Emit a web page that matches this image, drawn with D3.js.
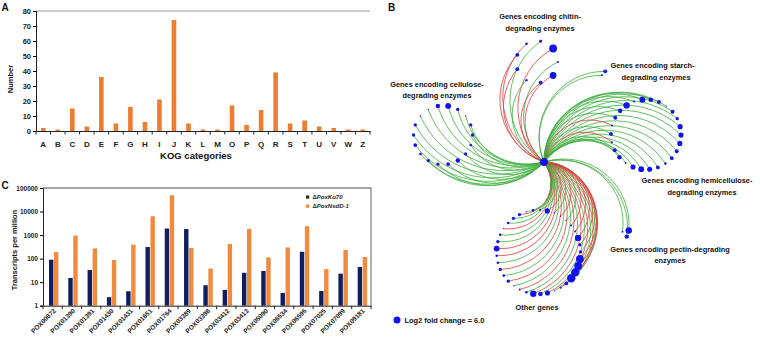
<!DOCTYPE html>
<html>
<head>
<meta charset="utf-8">
<script src="https://cdn.jsdelivr.net/npm/d3@7"></script>
<style>
  body { margin: 0; background: #fff; }
  text { font-family: Arial, "Liberation Sans", sans-serif; }
</style>
</head>
<body>
<div id="fig"></div>
<script>
// ---- panel A data ----
var kogCats = ['A','B','C','D','E','F','G','H','I','J','K','L','M','O','P','Q','R','S','T','U','V','W','Z'];
var kogCounts = [2,1,15,3,36,5,16,6,21,74,5,1,1,17,4,14,39,5,7,3,2,1,1];
var kogTicks = [0,10,20,30,40,50,60,70,80];

// ---- panel C data ----
var poxGenes = ['POX00872','POX01390','POX01391','POX01430','POX01431','POX01651','POX01764','POX03389',
  'POX03398','POX03412','POX03413','POX05090','POX06534','POX06595','POX07025','POX07099','POX09181'];
var tpmKu70 = [90,15,33,2.3,4.1,310,1900,1800,7.4,4.7,25,30,3.5,196,4.2,23,44];
var tpmNsdD = [190,950,270,87,390,6300,49000,285,38,420,1830,112,300,2400,36,234,117];
var tpmTicks = [1,10,100,1000,10000,100000];
var seriesNames = ['PoxKu70','PoxNsdD-1'];

// ---- panel B data (log2 fold change per gene, sign gives edge colour) ----
var fcChitin = [-6.7,1.7,-5.8,-3.3,2,-3.3,-3.3,-2.2,2.5];
var fcStarch = [3.3,1.7];
var fcCellulose = [3.8,5,2.8,1.2,2.8,2.8,2.2,2.8,3.8,3.2,2.8,2.8,2.2,3.2,2.8,2.8,1.2,1.2];
var fcHemi = [5,3.9,3.3,1.1,3.3,2.8,4.4,4.4,4.4,3.3,3.3,2.2,3.3,4.4,5,4.4,1.7,3.9,3.3,-1.7,3.3,-1.7,3.3,3.9,5.5,1.7];
var fcPectin = [5.5,3.8,1.7];
var fcOther = [-4.4,1.1,-1.1,1.1,-1.7,-1.7,-5.5,-2.8,2.8,-6.7,-6.7,-7.2,-7.2,3.3,-1.7,1.1,-4.4,3.9,-5.5,2.2,
  -1.7,1.1,-2.8,2.2,-2.8,2.2,-2.2,-5,2.8,2.2,-1.1,2.2,2.8,-2.8,1.1,2.2,1.7];
var legendFc = 6.0;

var svg = d3.select('#fig').append('svg')
    .attr('width', 760)
    .attr('height', 339)
    .style('background', '#fff');

var orange = '#ED7D31';
var navy = '#0E1E5E';

function panelLetter(t, x, y){
    svg.append('text').attr('x', x).attr('y', y).text(t)
        .style('font-size', '10px').style('font-weight', 'bold').style('fill', '#111');
}

//---------------- A: KOG bar chart ----------------
function drawKog(){
    var left = 36, right = 370, top = 11, bottom = 131;
    var x = d3.scaleBand().domain(kogCats).range([left, right]);
    var y = d3.scaleLinear().domain([0, 80]).range([bottom, top]);
    var g = svg.append('g');

    // top frame line
    g.append('line').attr('x1', left).attr('x2', right).attr('y1', top).attr('y2', top)
        .style('stroke', '#999').style('stroke-width', 1);

    g.selectAll('rect').data(kogCounts).enter().append('rect')
        .attr('x', function(d, i){ return x(kogCats[i]) + x.bandwidth() / 2 - 2.3; })
        .attr('y', function(d){ return y(d); })
        .attr('width', 4.6)
        .attr('height', function(d){ return bottom - y(d); })
        .attr('fill', orange);

    var gy = g.append('g').attr('transform', 'translate(' + left + ',0)')
        .call(d3.axisLeft(y).tickValues(kogTicks).tickSize(3).tickPadding(2));
    gy.selectAll('text').style('font-size', '7.5px').style('font-weight', 'bold').style('fill', '#222');

    var gx = g.append('g').attr('transform', 'translate(0,' + bottom + ')')
        .call(d3.axisBottom(x).tickSize(0).tickPadding(10));
    gx.selectAll('text').style('font-size', '8px').style('font-weight', 'bold').style('fill', '#222');
    // ticks between the categories
    gx.selectAll('.sep').data(kogCats.concat(['end'])).enter().append('line')
        .attr('class', 'sep')
        .attr('x1', function(d, i){ return left + i * x.step(); })
        .attr('x2', function(d, i){ return left + i * x.step(); })
        .attr('y1', 0).attr('y2', 3.5)
        .style('stroke', '#222');
    svg.selectAll('.domain').style('stroke', '#222');

    svg.append('text').attr('x', 196).attr('y', 158.5).attr('text-anchor', 'middle')
        .text('KOG categories').style('font-size', '9.5px').style('font-weight', 'bold').style('fill', '#111');
    svg.append('text').attr('transform', 'translate(12.5,79) rotate(-90)').attr('text-anchor', 'middle')
        .text('Number').style('font-size', '7.5px').style('font-weight', 'bold').style('fill', '#111');
}

//---------------- C: transcripts per million ----------------
function drawTpm(){
    var left = 43, right = 371, top = 188, bottom = 305.7;
    var x = d3.scaleBand().domain(poxGenes).range([left, right]);
    var y = d3.scaleLog().domain([1, 100000]).range([bottom, top]);
    var g = svg.append('g');

    g.append('path').attr('d', 'M' + left + ',' + top + 'H' + right + 'V' + bottom)
        .style('fill', 'none').style('stroke', '#888').style('stroke-width', 1.3);

    var series = [tpmKu70, tpmNsdD];
    var cols = [navy, '#F08A3E'];
    series.forEach(function(vals, s){
        g.append('g').selectAll('rect').data(vals).enter().append('rect')
            .attr('x', function(d, i){ return x(poxGenes[i]) + 6 + s * 5; })
            .attr('y', function(d){ return y(d); })
            .attr('width', 4.4)
            .attr('height', function(d){ return bottom - y(d); })
            .attr('fill', cols[s]);
    });

    var gy = g.append('g').attr('transform', 'translate(' + left + ',0)')
        .call(d3.axisLeft(y).tickValues(tpmTicks).tickFormat(d3.format('d')).tickSize(3).tickPadding(2));
    gy.selectAll('text').style('font-size', '6.5px').style('font-weight', 'bold').style('fill', '#222');

    var gx = g.append('g').attr('transform', 'translate(0,' + bottom + ')')
        .call(d3.axisBottom(x).tickSize(0).tickFormat(''));
    gx.selectAll('.sep').data(poxGenes.concat(['end'])).enter().append('line')
        .attr('class', 'sep')
        .attr('x1', function(d, i){ return left + i * x.step(); })
        .attr('x2', function(d, i){ return left + i * x.step(); })
        .attr('y1', 0).attr('y2', 3.5)
        .style('stroke', '#222');
    g.append('g').selectAll('text').data(poxGenes).enter().append('text')
        .attr('transform', function(d){
            return 'translate(' + (x(d) + x.bandwidth() / 2 + 2) + ',' + (bottom + 4) + ') rotate(-45)';
        })
        .attr('text-anchor', 'end')
        .attr('dy', '0.35em')
        .text(function(d){ return d; })
        .style('font-size', '6.5px').style('font-weight', 'bold').style('fill', '#222');
    svg.selectAll('.domain').style('stroke', '#222');

    svg.append('text').attr('transform', 'translate(17,250) rotate(-90)').attr('text-anchor', 'middle')
        .text('Transcripts per million').style('font-size', '7.5px').style('font-weight', 'bold').style('fill', '#111');

    // legend
    var lg = svg.append('g').attr('transform', 'translate(306,197)');
    seriesNames.forEach(function(name, s){
        lg.append('rect').attr('x', 0).attr('y', s * 9 - 1.5).attr('width', 3.2).attr('height', 3.2)
            .attr('fill', s === 0 ? '#1E2A22' : '#F08A3E');
        var t = lg.append('text').attr('x', 6.5).attr('y', s * 9 + 2)
            .style('font-size', '6px').style('font-weight', 'bold').style('fill', '#222');
        t.append('tspan').text('\u0394');
        t.append('tspan').style('font-style', 'italic').text(name);
    });
}

//---------------- B: gene network ----------------
function drawNetwork(){
    var hub = {x: 544, y: 162};
    // ring layout of each gene group
    var groups = [
        {fc: fcCellulose, cx: 443, cy: 135, r: 29.5, start: -100, bend: 0.7,
         label: ['Genes encoding cellulose-', 'degrading enzymes'], lx: [437, 437], ly: [86.5, 97.5]},
        {fc: fcChitin, cx: 537, cy: 62, r: 21, start: -40, bend: 0.6,
         label: ['Genes encoding chitin-', 'degrading enzymes'], lx: [540, 540], ly: [19, 30.5]},
        {fc: fcStarch, cx: 603.6, cy: 73.3, r: 2.6, start: -50, bend: 0.6,
         label: ['Genes encoding starch-', 'degrading enzymes'], lx: [652.5, 656], ly: [68, 79.5]},
        {fc: fcHemi, cx: 646, cy: 134.5, r: 35, start: -96, bend: 0.6,
         label: ['Genes encoding hemicellulose-', 'degrading enzymes'], lx: [697, 702], ly: [183, 194.5]},
        {fc: fcPectin, cx: 626, cy: 233, r: 3.7, start: -42, bend: 0.6,
         label: ['Genes encoding pectin-degrading', 'enzymes'], lx: [670, 670], ly: [251.5, 262.5]},
        {fc: fcOther, cx: 538.5, cy: 252, r: 42, start: -78, bend: 0.55,
         label: ['Other genes'], lx: [537], ly: [310]}
    ];
    var size = d3.scaleLinear().domain([0, 6]).range([0, 3.5]);

    var nodes = [];
    groups.forEach(function(gr){
        var n = gr.fc.length;
        gr.fc.forEach(function(v, i){
            var a = (gr.start + i * 360 / n) * Math.PI / 180;
            nodes.push({x: gr.cx + gr.r * Math.cos(a), y: gr.cy + gr.r * Math.sin(a), fc: v, bend: gr.bend});
        });
    });

    var gEdge = svg.append('g');
    gEdge.selectAll('path').data(nodes).enter().append('path')
        .attr('d', function(d){
            var dx = d.x - hub.x, dy = d.y - hub.y;
            var r = Math.sqrt(dx * dx + dy * dy) * d.bend;
            return 'M' + hub.x + ',' + hub.y + 'A' + r + ',' + r + ' 0 0,1 ' + d.x + ',' + d.y;
        })
        .style('fill', 'none')
        .style('stroke', function(d){ return d.fc > 0 ? '#3DB03D' : '#E23B3B'; })
        .style('stroke-width', 0.8);

    var gNode = svg.append('g');
    gNode.selectAll('circle').data(nodes).enter().append('circle')
        .attr('cx', function(d){ return d.x; })
        .attr('cy', function(d){ return d.y; })
        .attr('r', function(d){ return size(Math.abs(d.fc)); })
        .attr('fill', '#1212EE');
    gNode.append('circle').attr('cx', hub.x).attr('cy', hub.y).attr('r', 4).attr('fill', '#1212EE');

    groups.forEach(function(gr){
        gr.label.forEach(function(line, k){
            svg.append('text').attr('x', gr.lx[k]).attr('y', gr.ly[k]).attr('text-anchor', 'middle')
                .text(line).style('font-size', '7.4px').style('font-weight', 'bold').style('fill', '#111');
        });
    });

    // size legend
    svg.append('circle').attr('cx', 397).attr('cy', 320).attr('r', size(legendFc)).attr('fill', '#1212EE');
    svg.append('text').attr('x', 404.5).attr('y', 320).attr('dy', '0.35em')
        .text('Log2 fold change = ' + legendFc.toFixed(1))
        .style('font-size', '7.4px').style('font-weight', 'bold').style('fill', '#111');
}

panelLetter('A', 1.5, 11);
panelLetter('B', 388, 10.5);
panelLetter('C', 1.5, 188.5);
drawKog();
drawTpm();
drawNetwork();
</script>
</body>
</html>
